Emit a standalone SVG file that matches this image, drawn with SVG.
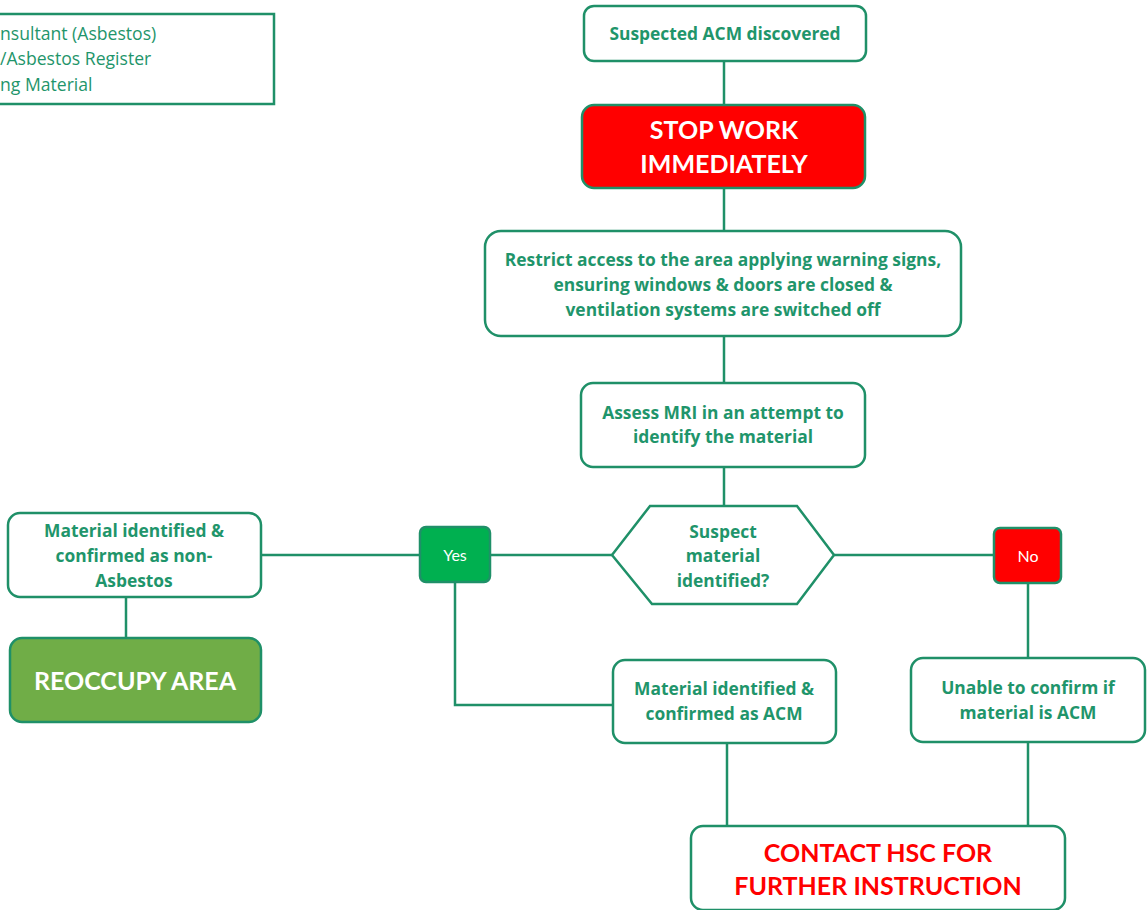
<svg xmlns="http://www.w3.org/2000/svg" width="1147" height="910" viewBox="0 0 1147 910">
  <style>
    .box { fill: #ffffff; stroke: #1f9068; stroke-width: 2.5; }
    .link { fill: none; stroke: #1f9068; stroke-width: 2.5; }
    .t { font-family: "Open Sans", "Liberation Sans", sans-serif; font-weight: bold; font-size: 17.4px; fill: #1f956b; text-anchor: middle; }
    .legend { font-family: "Open Sans", "Liberation Sans", sans-serif; font-size: 17.6px; fill: #1f956b; }
    .big { font-family: Lato, "Liberation Sans", sans-serif; font-weight: bold; font-size: 25px; fill: #ffffff; text-anchor: middle; }
    .tag { font-family: Lato, "Liberation Sans", sans-serif; font-size: 16px; fill: #ffffff; text-anchor: middle; }
    .alert { font-family: Lato, "Liberation Sans", sans-serif; font-weight: bold; font-size: 25px; fill: #ff0000; text-anchor: middle; }
  </style>

  <rect width="1147" height="910" fill="#ffffff"/>

  <!-- connectors -->
  <g id="connectors">
    <line class="link" x1="724" y1="61" x2="724" y2="105"/>
    <line class="link" x1="724" y1="188" x2="724" y2="231"/>
    <line class="link" x1="724" y1="336" x2="724" y2="383"/>
    <line class="link" x1="724" y1="467" x2="724" y2="506"/>
    <line class="link" x1="612" y1="555" x2="490" y2="555"/>
    <line class="link" x1="420" y1="555" x2="261" y2="555"/>
    <line class="link" x1="126" y1="597" x2="126" y2="638"/>
    <polyline class="link" points="455,582 455,705 613,705"/>
    <line class="link" x1="727" y1="743" x2="727" y2="826"/>
    <line class="link" x1="834" y1="555" x2="994" y2="555"/>
    <line class="link" x1="1028" y1="583" x2="1028" y2="658"/>
    <line class="link" x1="1028" y1="742" x2="1028" y2="826"/>
  </g>

  <!-- key -->
  <g id="legend">
    <rect class="box" x="-20" y="14" width="294" height="90" stroke-width="1.5"/>
    <text class="legend" x="0" y="40">nsultant (Asbestos)</text>
    <text class="legend" x="0" y="65">/Asbestos Register</text>
    <text class="legend" x="0" y="91">ng Material</text>
  </g>

  <g id="discovered">
    <rect class="box" x="584" y="6" width="282" height="55" rx="10"/>
    <text class="t" x="725" y="40">Suspected ACM discovered</text>
  </g>

  <g id="stop-work">
    <rect class="box" x="582" y="105" width="283" height="83" rx="12" style="fill:#ff0000"/>
    <text class="big" x="724" y="139">STOP WORK</text>
    <text class="big" x="724" y="173">IMMEDIATELY</text>
  </g>

  <g id="restrict">
    <rect class="box" x="485" y="231" width="476" height="105" rx="16"/>
    <text class="t" x="723" y="266">Restrict access to the area applying warning signs,</text>
    <text class="t" x="723" y="291">ensuring windows &amp; doors are closed &amp;</text>
    <text class="t" x="723" y="316">ventilation systems are switched off</text>
  </g>

  <g id="assess">
    <rect class="box" x="581" y="383" width="284" height="84" rx="12"/>
    <text class="t" x="723" y="419">Assess MRI in an attempt to</text>
    <text class="t" x="723" y="443">identify the material</text>
  </g>

  <g id="decision">
    <polygon class="box" points="612,555 650,506 797,506 834,555 797,604 652,604"/>
    <text class="t" x="723" y="538">Suspect</text>
    <text class="t" x="723" y="562">material</text>
    <text class="t" x="723" y="587">identified?</text>
  </g>

  <g id="yes">
    <rect class="box" x="420" y="527" width="70" height="55" rx="6" style="fill:#00b050"/>
    <text class="tag" x="455" y="561">Yes</text>
  </g>

  <g id="no">
    <rect class="box" x="994" y="528" width="67" height="55" rx="6" style="fill:#ff0000"/>
    <text class="tag" x="1028" y="562">No</text>
  </g>

  <g id="non-asbestos">
    <rect class="box" x="8" y="513" width="253" height="84" rx="12"/>
    <text class="t" x="134" y="537">Material identified &amp;</text>
    <text class="t" x="134" y="562">confirmed as non-</text>
    <text class="t" x="134" y="587">Asbestos</text>
  </g>

  <g id="reoccupy">
    <rect class="box" x="10" y="638" width="251" height="84" rx="12" style="fill:#70ad47"/>
    <text class="big" x="135" y="690">REOCCUPY AREA</text>
  </g>

  <g id="confirmed-acm">
    <rect class="box" x="613" y="660" width="223" height="83" rx="12"/>
    <text class="t" x="724" y="695">Material identified &amp;</text>
    <text class="t" x="724" y="720">confirmed as ACM</text>
  </g>

  <g id="unconfirmed">
    <rect class="box" x="911" y="658" width="234" height="84" rx="12"/>
    <text class="t" x="1028" y="694">Unable to confirm if</text>
    <text class="t" x="1028" y="719">material is ACM</text>
  </g>

  <g id="contact-hsc">
    <rect class="box" x="691" y="826" width="374" height="84" rx="12"/>
    <text class="alert" x="878" y="862">CONTACT HSC FOR</text>
    <text class="alert" x="878" y="895">FURTHER INSTRUCTION</text>
  </g>
</svg>
